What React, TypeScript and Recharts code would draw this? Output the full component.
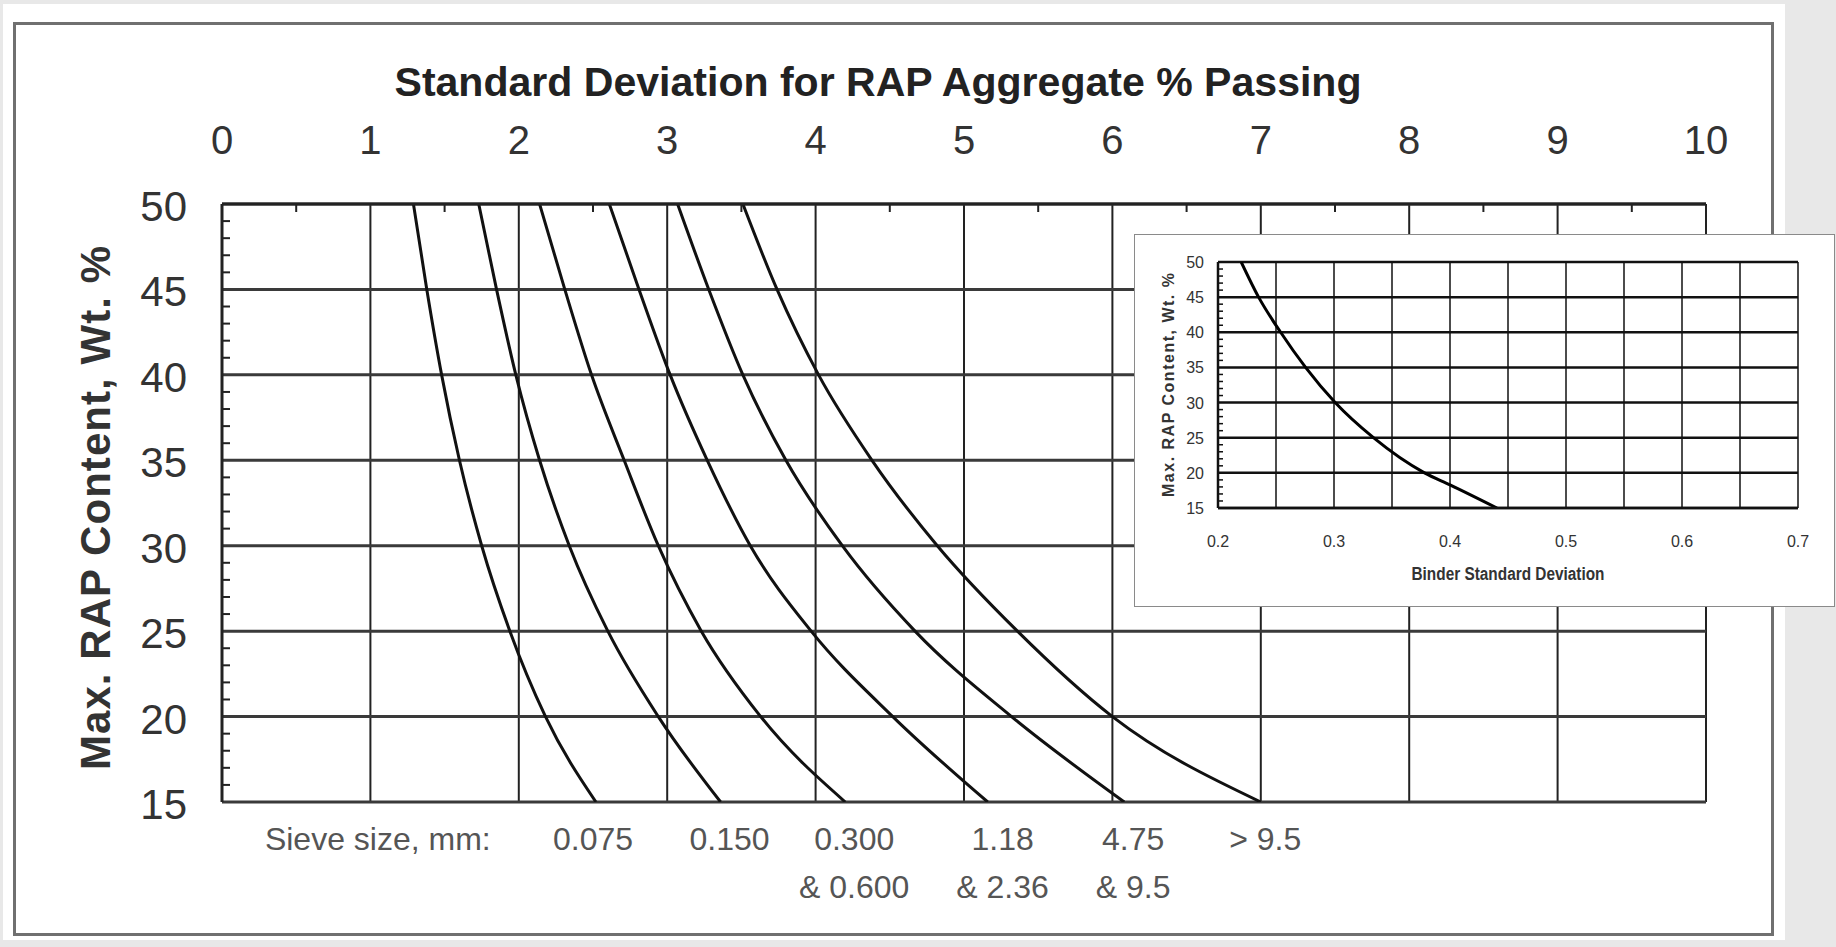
import React from 'react';
import { LineChart, Line, XAxis, YAxis, CartesianGrid, ReferenceLine } from 'recharts';

const FONT = '"Liberation Sans", Arial, Helvetica, sans-serif';

// Main chart: x = standard deviation for RAP aggregate % passing, y = max RAP content (wt. %)
const rapContentPct = [50, 45, 40, 35, 30, 25, 20, 15];
const sdSieve0075 = [1.29, 1.38, 1.48, 1.6, 1.75, 1.94, 2.18, 2.52];
const sdSieve0150 = [1.73, 1.85, 1.98, 2.14, 2.34, 2.6, 2.94, 3.36];
const sdSieve0300 = [2.14, 2.31, 2.49, 2.71, 2.94, 3.23, 3.63, 4.2];
const sdSieve118 = [2.61, 2.81, 3.02, 3.27, 3.56, 3.97, 4.52, 5.16];
const sdSieve475 = [3.07, 3.28, 3.51, 3.8, 4.18, 4.67, 5.32, 6.08];
const sdSieve95 = [3.51, 3.74, 4.02, 4.38, 4.82, 5.36, 6.0, 7.0];

// Inset: binder standard deviation
const binderRapPct = [50, 45, 40, 35, 30, 25, 20, 18.3, 15];
const binderSd = [0.22, 0.235, 0.254, 0.2755, 0.301, 0.334, 0.378, 0.4, 0.4405];

// Ticks (major = labelled grid lines, minor = short inner tick marks)
const mainXMajorTicks = [0, 1, 2, 3, 4, 5, 6, 7, 8, 9, 10];
const mainXAllTicks = [0, 0.5, 1, 1.5, 2, 2.5, 3, 3.5, 4, 4.5, 5, 5.5, 6, 6.5, 7, 7.5, 8, 8.5, 9, 9.5, 10];
const mainYMajorTicks = [15, 20, 25, 30, 35, 40, 45, 50];
const mainYAllTicks = [15, 16, 17, 18, 19, 20, 21, 22, 23, 24, 25, 26, 27, 28, 29, 30, 31, 32, 33, 34, 35, 36, 37, 38, 39, 40, 41, 42, 43, 44, 45, 46, 47, 48, 49, 50];
const insetXTicks = [0.2, 0.25, 0.3, 0.35, 0.4, 0.45, 0.5, 0.55, 0.6, 0.65, 0.7];
const insetYMajorTicks = [15, 20, 25, 30, 35, 40, 45, 50];
const insetYAllTicks = mainYAllTicks;

// Sieve-size annotation under the curves
const sieveLabelPos = [1.05, 2.5, 3.42, 4.26, 5.26, 6.14, 7.03];
const sieveLabelTop = ['Sieve size, mm:', '0.075', '0.150', '0.300', '1.18', '4.75', '> 9.5'];
const sieveLabelBottom = ['', '', '', '& 0.600', '& 2.36', '& 9.5', ''];

const toPoints = (xs: number[], ys: number[]) => ys.map((y, i) => ({ x: xs[i], y }));

const mainCurves = [sdSieve0075, sdSieve0150, sdSieve0300, sdSieve118, sdSieve475, sdSieve95].map((xs) =>
  toPoints(xs, rapContentPct)
);
const binderCurve = toPoints(binderSd, binderRapPct);
const sieveLabelRows = sieveLabelPos.map((x, i) => ({ x, label: sieveLabelTop[i] }));

const isMult = (v: number, step: number) => Math.abs(v / step - Math.round(v / step)) < 1e-6;

function SieveTick(props: any) {
  const { x, y, payload } = props;
  let i = sieveLabelPos.findIndex((v) => Math.abs(v - Number(payload?.value)) < 1e-6);
  if (i < 0 && typeof props.index === 'number') i = props.index;
  if (i < 0 || i >= sieveLabelTop.length) return null;
  return (
    <text x={x} y={y} textAnchor="middle" fill="#555" fontSize={32} fontFamily={FONT}>
      <tspan x={x} dy={48}>{sieveLabelTop[i]}</tspan>
      {sieveLabelBottom[i] ? <tspan x={x} dy={48}>{sieveLabelBottom[i]}</tspan> : null}
    </text>
  );
}

const MAIN_X_MARGIN = 50;
function MainXTick(props: any) {
  const { x, y, payload } = props;
  const v = Number(payload?.value);
  if (isMult(v, 1)) {
    return (
      <text x={x} y={y} textAnchor="middle" fill="#333" fontSize={40} fontFamily={FONT}>
        {String(v)}
      </text>
    );
  }
  return <line x1={x} x2={x} y1={y + MAIN_X_MARGIN} y2={y + MAIN_X_MARGIN + 8} stroke="#222" strokeWidth={2} />;
}

const MAIN_Y_MARGIN = 35;
function MainYTick(props: any) {
  const { x, y, payload } = props;
  const v = Number(payload?.value);
  if (isMult(v, 5)) {
    return (
      <text x={x} y={y + 17} textAnchor="end" fill="#333" fontSize={42} fontFamily={FONT}>
        {String(v)}
      </text>
    );
  }
  return <line x1={x + MAIN_Y_MARGIN} x2={x + MAIN_Y_MARGIN + 8} y1={y} y2={y} stroke="#222" strokeWidth={2} />;
}

const INSET_Y_MARGIN = 14;
function InsetYTick(props: any) {
  const { x, y, payload } = props;
  const v = Number(payload?.value);
  if (isMult(v, 5)) {
    return (
      <text x={x} y={y + 6} textAnchor="end" fill="#333" fontSize={16} fontFamily={FONT}>
        {String(v)}
      </text>
    );
  }
  return <line x1={x + INSET_Y_MARGIN} x2={x + INSET_Y_MARGIN + 5} y1={y} y2={y} stroke="#111" strokeWidth={1.5} />;
}

const insetFmt = (v: number) => (isMult(v, 0.1) ? v.toFixed(1) : '');

export default function App() {
  return (
    <div style={{ position: 'absolute', left: 0, top: 0, width: 1836, height: 947, background: '#e8e8e8', overflow: 'hidden', fontFamily: FONT }}>
      <div style={{ position: 'absolute', left: 3, top: 4, width: 1782, height: 936, background: '#fff' }} />
      <div style={{ position: 'absolute', left: 13, top: 22, width: 1761, height: 914, border: '3px solid #707070', boxSizing: 'border-box' }} />

      <div style={{ position: 'absolute', left: 0, top: 0 }}>
        <LineChart width={1836} height={947} data={sieveLabelRows} margin={{ top: 144, right: 130, bottom: 45, left: 142 }}>
          {mainXMajorTicks.map((v) => (
            <ReferenceLine key={'vx' + v} x={v} stroke="#222" strokeWidth={2} />
          ))}
          {mainYMajorTicks.map((v) => (
            <ReferenceLine key={'hy' + v} y={v} stroke="#3a3a3a" strokeWidth={3} />
          ))}
          <XAxis
            type="number"
            dataKey="x"
            orientation="top"
            domain={[0, 10]}
            ticks={mainXAllTicks}
            interval={0}
            allowDataOverflow
            height={60}
            tickLine={false}
            tickSize={0}
            tickMargin={MAIN_X_MARGIN}
            axisLine={{ stroke: '#222', strokeWidth: 3 }}
            tick={(p: any) => <MainXTick {...p} />}
          />
          <XAxis
            xAxisId="sieve"
            type="number"
            dataKey="x"
            orientation="bottom"
            domain={[0, 10]}
            allowDataOverflow
            ticks={sieveLabelPos}
            interval={0}
            height={100}
            tickLine={false}
            axisLine={false}
            tickSize={0}
            tickMargin={0}
            tick={(p: any) => <SieveTick {...p} />}
          />
          <YAxis
            type="number"
            domain={[15, 50]}
            ticks={mainYAllTicks}
            interval={0}
            allowDataOverflow
            width={80}
            tickLine={false}
            tickSize={0}
            tickMargin={MAIN_Y_MARGIN}
            axisLine={{ stroke: '#222', strokeWidth: 3 }}
            tick={(p: any) => <MainYTick {...p} />}
          />
          {mainCurves.map((pts, i) => (
            <Line
              key={i}
              data={pts}
              dataKey="y"
              type="monotone"
              stroke="#111"
              strokeWidth={3}
              dot={false}
              activeDot={false}
              isAnimationActive={false}
            />
          ))}
        </LineChart>
      </div>

      <div style={{ position: 'absolute', left: 1135, top: 235, width: 699, height: 371, background: '#fff', boxShadow: '0 0 0 1px #8a8a8a' }}>
        <LineChart width={699} height={371} data={binderCurve} margin={{ top: 27, right: 36, bottom: 38, left: 43 }}>
          <CartesianGrid horizontal={false} stroke="#111" strokeWidth={1.5} fill="none" />
          {insetYMajorTicks.map((v) => (
            <ReferenceLine key={'ih' + v} y={v} stroke="#111" strokeWidth={2.5} />
          ))}
          <XAxis
            type="number"
            dataKey="x"
            domain={[0.2, 0.7]}
            ticks={insetXTicks}
            interval={0}
            allowDataOverflow
            tickFormatter={insetFmt}
            height={60}
            tickLine={false}
            tickSize={0}
            tickMargin={28}
            axisLine={{ stroke: '#111', strokeWidth: 2.5 }}
            tick={{ fill: '#333', fontSize: 16, fontFamily: FONT }}
          />
          <YAxis
            type="number"
            domain={[15, 50]}
            ticks={insetYAllTicks}
            interval={0}
            allowDataOverflow
            width={40}
            tickLine={false}
            tickSize={0}
            tickMargin={INSET_Y_MARGIN}
            axisLine={{ stroke: '#111', strokeWidth: 2.5 }}
            tick={(p: any) => <InsetYTick {...p} />}
          />
          <Line
            dataKey="y"
            type="monotone"
            stroke="#000"
            strokeWidth={3}
            dot={false}
            activeDot={false}
            isAnimationActive={false}
          />
        </LineChart>
      </div>

      <svg width={1836} height={947} style={{ position: 'absolute', left: 0, top: 0, pointerEvents: 'none' }}>
        <text x={878} y={96} textAnchor="middle" fontSize={41} fontWeight="bold" fill="#222" fontFamily={FONT} textLength={967} lengthAdjust="spacingAndGlyphs">
          Standard Deviation for RAP Aggregate % Passing
        </text>
        <text x={110} y={508} transform="rotate(-90 110 508)" textAnchor="middle" fontSize={42} fontWeight="bold" fill="#333" fontFamily={FONT} textLength={524} lengthAdjust="spacing">
          Max. RAP Content, Wt. %
        </text>
        <text x={1174} y={385} transform="rotate(-90 1174 385)" textAnchor="middle" fontSize={16} fontWeight="bold" fill="#333" fontFamily={FONT} textLength={224} lengthAdjust="spacing">
          Max. RAP Content, Wt. %
        </text>
        <text x={1508} y={580} textAnchor="middle" fontSize={18} fontWeight="bold" fill="#333" fontFamily={FONT} textLength={193} lengthAdjust="spacingAndGlyphs">
          Binder Standard Deviation
        </text>
      </svg>
    </div>
  );
}
